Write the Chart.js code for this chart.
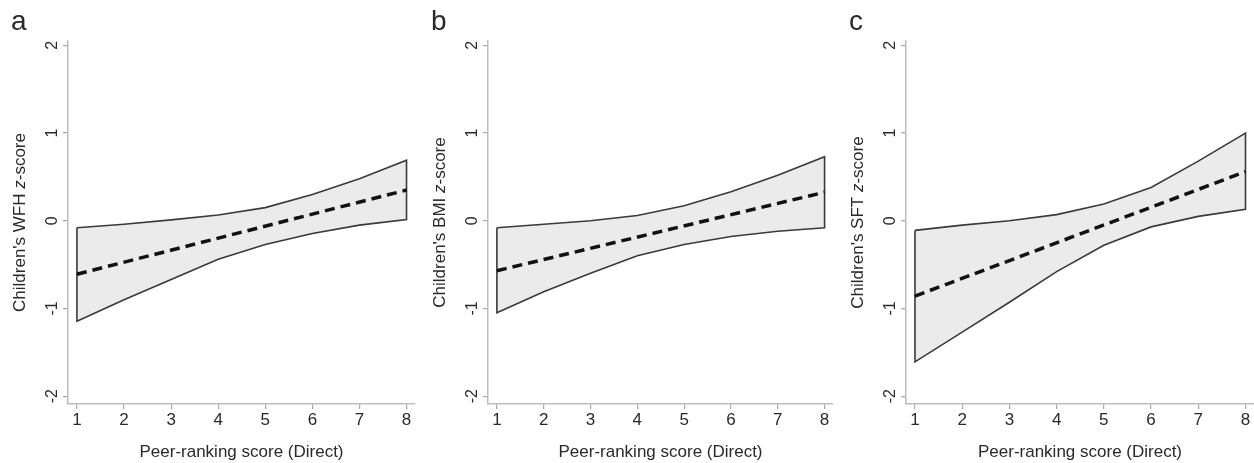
<!DOCTYPE html>
<html>
<head>
<meta charset="utf-8">
<script src="https://cdn.jsdelivr.net/npm/chart.js@4.4.1/dist/chart.umd.min.js"></script>
<style>
html,body{margin:0;padding:0;background:#fff;}
body{width:1254px;height:463px;position:relative;overflow:hidden;}
.panel{position:absolute;top:0;height:463px;width:420px;}
</style>
</head>
<body>
<div class="panel" style="left:0px"><canvas id="ca"></canvas></div>
<div class="panel" style="left:420px"><canvas id="cb"></canvas></div>
<div class="panel" style="left:834px"><canvas id="cc"></canvas></div>
<script>
// ---- data ----
const scoreX = [1, 2, 3, 4, 5, 6, 7, 8];
const meanX = [1, 8];
const xTicks = [1, 2, 3, 4, 5, 6, 7, 8];
const yTicks = [-2, -1, 0, 1, 2];

const upperWFH = [-0.08, -0.04, 0.01, 0.065, 0.15, 0.30, 0.48, 0.69];
const lowerWFH = [-1.145, -0.90, -0.67, -0.44, -0.27, -0.145, -0.05, 0.015];
const meanWFH  = [-0.61, 0.35];

const upperBMI = [-0.08, -0.04, 0.0, 0.06, 0.17, 0.33, 0.52, 0.73];
const lowerBMI = [-1.05, -0.81, -0.60, -0.40, -0.27, -0.18, -0.12, -0.08];
const meanBMI  = [-0.57, 0.325];

const upperSFT = [-0.11, -0.05, 0.0, 0.07, 0.19, 0.38, 0.68, 1.0];
const lowerSFT = [-1.61, -1.27, -0.93, -0.58, -0.28, -0.07, 0.05, 0.13];
const meanSFT  = [-0.86, 0.56];

const panelLetters = ['a', 'b', 'c'];
const yTitlesPre = ["Children's WFH ", "Children's BMI ", "Children's SFT "];
const yTitleItalic = 'z';
const yTitlePost = '-score';
const xTitle = 'Peer-ranking score (Direct)';

// ---- styling ----
const FONT = '"Liberation Sans", Arial, Helvetica, sans-serif';
const TEXT = '#2a2a2a';

function bandPolygon(up, lo) {
  const pts = [];
  for (let i = 0; i < scoreX.length; i++) pts.push({x: scoreX[i], y: up[i]});
  for (let i = scoreX.length - 1; i >= 0; i--) pts.push({x: scoreX[i], y: lo[i]});
  pts.push({x: scoreX[0], y: up[0]});
  return pts;
}

function makeChart(id, idx, up, lo, mean, axisW, padRight) {
  const textPlugin = {
    id: 'texts' + idx,
    afterDraw(chart) {
      const ctx = chart.ctx;
      const area = chart.chartArea;
      const ys = chart.scales.y;
      ctx.save();
      ctx.fillStyle = TEXT;
      // panel letter
      ctx.font = '28px ' + FONT;
      ctx.textAlign = 'left';
      ctx.textBaseline = 'alphabetic';
      ctx.fillText(panelLetters[idx], area.left - 57, 30);
      // y tick labels, rotated
      ctx.font = '16px ' + FONT;
      yTicks.forEach(v => {
        const py = ys.getPixelForValue(v);
        ctx.save();
        ctx.translate(area.left - 11, py);
        ctx.rotate(-Math.PI / 2);
        ctx.textAlign = 'center';
        ctx.textBaseline = 'alphabetic';
        ctx.fillText(String(v), 0, 0);
        ctx.restore();
      });
      // y title with italic z
      const fN = '17px ' + FONT, fI = 'italic 17px ' + FONT;
      ctx.font = fN; const w1 = ctx.measureText(yTitlesPre[idx]).width;
      ctx.font = fI; const w2 = ctx.measureText(yTitleItalic).width;
      ctx.font = fN; const w3 = ctx.measureText(yTitlePost).width;
      const tot = w1 + w2 + w3;
      ctx.save();
      ctx.translate(area.left - 43, (area.top + area.bottom) / 2);
      ctx.rotate(-Math.PI / 2);
      ctx.textAlign = 'left';
      ctx.textBaseline = 'alphabetic';
      let x0 = -tot / 2;
      ctx.font = fN; ctx.fillText(yTitlesPre[idx], x0, 0); x0 += w1;
      ctx.font = fI; ctx.fillText(yTitleItalic, x0, 0); x0 += w2;
      ctx.font = fN; ctx.fillText(yTitlePost, x0, 0);
      ctx.restore();
      // x title
      ctx.font = '17px ' + FONT;
      ctx.textAlign = 'center';
      ctx.textBaseline = 'alphabetic';
      ctx.fillText(xTitle, (area.left + area.right) / 2, 457);
      ctx.restore();
    }
  };

  return new Chart(document.getElementById(id), {
    type: 'line',
    data: {
      datasets: [
        {
          data: bandPolygon(up, lo),
          borderColor: '#3a3a3a',
          borderWidth: 1.6,
          backgroundColor: '#ebebeb',
          fill: 'shape',
          pointRadius: 0,
          tension: 0,
          borderJoinStyle: 'miter',
          order: 2
        },
        {
          data: meanX.map((x, i) => ({x: x, y: mean[i]})),
          borderColor: '#111',
          borderWidth: 3.5,
          borderDash: [10, 6],
          fill: false,
          pointRadius: 0,
          tension: 0,
          order: 1
        }
      ]
    },
    options: {
      responsive: true,
      maintainAspectRatio: false,
      animation: false,
      events: [],
      layout: {padding: {top: 41, right: padRight, left: 0, bottom: 0}},
      plugins: {legend: {display: false}, tooltip: {enabled: false}},
      scales: {
        x: {
          type: 'linear',
          min: 0.81,
          max: 8.18,
          afterBuildTicks: s => { s.ticks = xTicks.map(v => ({value: v})); },
          afterFit: s => { s.height = 59; },
          grid: {drawOnChartArea: false, drawTicks: true, tickLength: 5, color: '#a8a8a8', lineWidth: 1.2},
          border: {display: true, color: '#bdbdbd', width: 1.5},
          ticks: {color: TEXT, font: {family: FONT, size: 17}, padding: 1, maxRotation: 0, autoSkip: false}
        },
        y: {
          type: 'linear',
          min: -2.09,
          max: 2.05,
          afterBuildTicks: s => { s.ticks = yTicks.map(v => ({value: v})); },
          afterFit: s => { s.width = axisW; },
          grid: {drawOnChartArea: false, drawTicks: true, tickLength: 5, color: '#a8a8a8', lineWidth: 1.2},
          border: {display: true, color: '#bdbdbd', width: 1.5},
          ticks: {display: false}
        }
      }
    },
    plugins: [textPlugin]
  });
}

makeChart('ca', 0, upperWFH, lowerWFH, meanWFH, 68, 5);
makeChart('cb', 1, upperBMI, lowerBMI, meanBMI, 68, 7);
makeChart('cc', 2, upperSFT, lowerSFT, meanSFT, 72, 0);
</script>
</body>
</html>
